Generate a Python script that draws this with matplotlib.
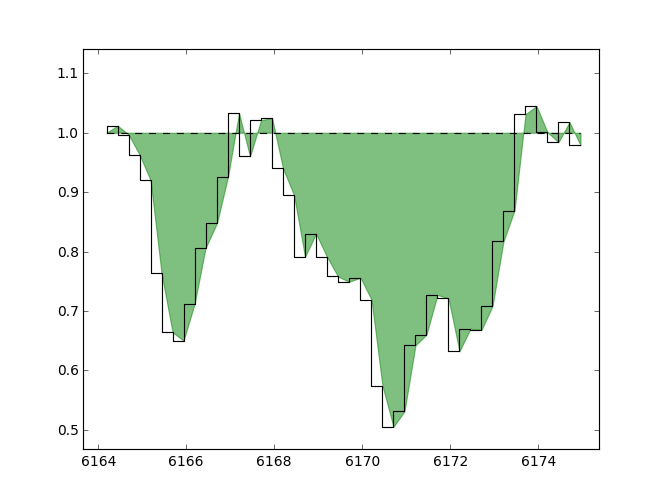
import matplotlib
matplotlib.use("Agg")
import matplotlib.pyplot as plt
import numpy as np

plt.style.use("classic")

# wavelength grid and normalised flux
wave = [6164.19, 6164.44, 6164.69, 6164.94, 6165.19, 6165.44, 6165.69, 6165.94,
        6166.19, 6166.44, 6166.70, 6166.95, 6167.20, 6167.45, 6167.70, 6167.95,
        6168.20, 6168.45, 6168.70, 6168.95, 6169.20, 6169.45, 6169.70, 6169.96,
        6170.21, 6170.46, 6170.71, 6170.96, 6171.21, 6171.46, 6171.71, 6171.96,
        6172.21, 6172.46, 6172.71, 6172.96, 6173.21, 6173.46, 6173.71, 6173.96,
        6174.21, 6174.46, 6174.71, 6174.96]
flux = [1.000, 1.012, 0.997, 0.963, 0.920, 0.763, 0.664, 0.650,
        0.712, 0.806, 0.848, 0.926, 1.033, 0.960, 1.021, 1.025,
        0.940, 0.895, 0.791, 0.830, 0.791, 0.758, 0.749, 0.756,
        0.719, 0.574, 0.505, 0.531, 0.642, 0.660, 0.727, 0.721,
        0.632, 0.670, 0.668, 0.708, 0.817, 0.869, 1.031, 1.045,
        1.001, 0.984, 1.018, 0.979]
continuum = [1.0] * len(wave)

x = np.array(wave)
y = np.array(flux)
c = np.array(continuum)

fig, ax = plt.subplots(figsize=(8, 6.006), dpi=83.25)
ax.fill_between(x, y, c, color="green", alpha=0.5)
ax.plot(x, y, color="black", drawstyle="steps", linewidth=1.0)
ax.plot(x, c, "k--", linewidth=1.0)

ax.set_xlim(6163.66, 6175.39)
ax.set_ylim(0.4675, 1.141)
ax.set_xticks([6164, 6166, 6168, 6170, 6172, 6174])
ax.set_yticks([0.5, 0.6, 0.7, 0.8, 0.9, 1.0, 1.1])
ax.ticklabel_format(useOffset=False)

fig.savefig("out.png", dpi=83.25, facecolor="white")
